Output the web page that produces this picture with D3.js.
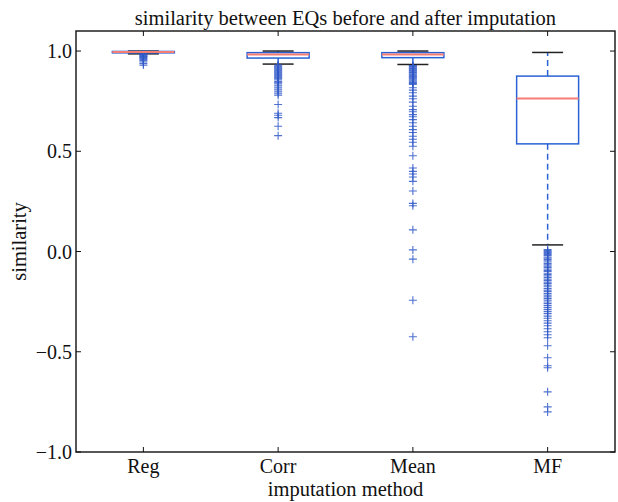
<!DOCTYPE html>
<html>
<head>
<meta charset="utf-8">
<script src="https://cdn.jsdelivr.net/npm/d3@7"></script>
<style>
  body { margin: 0; background: #fff; }
  text { font-family: "Liberation Serif", "DejaVu Serif", serif; fill: #111; }
</style>
</head>
<body>
<svg id="chart" width="618" height="502"></svg>
<script>
// categories and box stats
const methods = ["Reg", "Corr", "Mean", "MF"];
const whiskerHigh = [1.0, 1.0, 1.0, 0.993];
const q3 = [0.998, 0.992, 0.992, 0.875];
const medians = [0.995, 0.983, 0.983, 0.763];
const q1 = [0.991, 0.965, 0.967, 0.537];
const whiskerLow = [0.986, 0.935, 0.933, 0.033];

// outliers ('+' markers)
const regFliers = [0.985, 0.982, 0.979, 0.976, 0.973, 0.97, 0.967, 0.963, 0.958, 0.952, 0.945, 0.938, 0.93];
const corrFliers = [0.93, 0.925, 0.92, 0.915, 0.91, 0.905, 0.9, 0.895, 0.89, 0.885, 0.88, 0.875, 0.87, 0.865,
  0.86, 0.85, 0.845, 0.84, 0.83, 0.82, 0.81, 0.8, 0.79, 0.78, 0.733, 0.69, 0.68, 0.668, 0.625, 0.578];
const meanFliers = [0.928, 0.925, 0.921, 0.917, 0.913, 0.909, 0.905, 0.901, 0.897, 0.893, 0.889, 0.884, 0.88,
  0.875, 0.871, 0.866, 0.862, 0.857, 0.852, 0.847, 0.843, 0.838, 0.834, 0.817, 0.805, 0.792, 0.775, 0.762,
  0.745, 0.725, 0.708, 0.697, 0.683, 0.672, 0.658, 0.642, 0.625, 0.608, 0.594, 0.575, 0.56, 0.545, 0.525,
  0.478, 0.417, 0.4, 0.387, 0.372, 0.35, 0.302, 0.24, 0.228, 0.108, 0.008, -0.038, -0.243, -0.425];
const mfFliers = [0.01, 0.005, 0.0, -0.005, -0.01, -0.015, -0.02, -0.027, -0.033, -0.04, -0.046, -0.052, -0.06,
  -0.066, -0.073, -0.08, -0.087, -0.094, -0.1, -0.108, -0.115, -0.122, -0.13, -0.138, -0.145, -0.153, -0.16,
  -0.168, -0.176, -0.185, -0.193, -0.2, -0.21, -0.218, -0.226, -0.235, -0.243, -0.252, -0.26, -0.27, -0.28,
  -0.29, -0.3, -0.31, -0.322, -0.333, -0.345, -0.357, -0.37, -0.385, -0.4, -0.415, -0.43, -0.47, -0.53,
  -0.57, -0.58, -0.7, -0.775, -0.8];
const fliers = [regFliers, corrFliers, meanFliers, mfFliers];

const yTicks = [-1.0, -0.5, 0.0, 0.5, 1.0];

const plotLeft = 76, plotRight = 615, plotTop = 31, plotBottom = 452;
const svg = d3.select("#chart");

const x = d3.scaleLinear().domain([0.5, 4.5]).range([plotLeft, plotRight]);
const y = d3.scaleLinear().domain([-1.0, 1.1]).range([plotBottom, plotTop]);
const step = x(2) - x(1);
const boxHalf = step * 0.23;
const capHalf = step * 0.115;

const boxColor = "#2a62d4";
const medColor = "#f57c74";
const flierColor = "#2f58c8";

const g = svg.append("g");

methods.forEach((m, i) => {
  const cx = x(i + 1);
  // whiskers (dashed)
  g.append("line").attr("x1", cx).attr("x2", cx)
    .attr("y1", y(q3[i])).attr("y2", y(whiskerHigh[i]))
    .attr("stroke", boxColor).attr("stroke-width", 1.5).attr("stroke-dasharray", "6,4");
  g.append("line").attr("x1", cx).attr("x2", cx)
    .attr("y1", y(q1[i])).attr("y2", y(whiskerLow[i]))
    .attr("stroke", boxColor).attr("stroke-width", 1.5).attr("stroke-dasharray", "6,4");
  // caps
  [whiskerHigh[i], whiskerLow[i]].forEach(v => {
    g.append("line").attr("x1", cx - capHalf).attr("x2", cx + capHalf)
      .attr("y1", y(v)).attr("y2", y(v))
      .attr("stroke", "#222").attr("stroke-width", 1.5);
  });
  // fliers
  g.selectAll(null).data(fliers[i]).enter()
    .append("path")
    .attr("d", d => `M${cx - 4},${y(d)}H${cx + 4}M${cx},${y(d) - 4}V${y(d) + 4}`)
    .attr("stroke", flierColor).attr("stroke-width", 1.1).attr("fill", "none").attr("opacity", 0.85);
  // box
  g.append("rect")
    .attr("x", cx - boxHalf).attr("width", boxHalf * 2)
    .attr("y", y(q3[i])).attr("height", Math.max(0, y(q1[i]) - y(q3[i])))
    .attr("fill", "none").attr("stroke", boxColor).attr("stroke-width", 1.5);
  // median
  g.append("line").attr("x1", cx - boxHalf).attr("x2", cx + boxHalf)
    .attr("y1", y(medians[i])).attr("y2", y(medians[i]))
    .attr("stroke", medColor).attr("stroke-width", 2);
});

// frame
svg.append("rect").attr("x", plotLeft).attr("y", plotTop)
  .attr("width", plotRight - plotLeft).attr("height", plotBottom - plotTop)
  .attr("fill", "none").attr("stroke", "#111").attr("stroke-width", 1.4);

// ticks inside, on all four sides
const tick = 5;
yTicks.forEach(v => {
  svg.append("line").attr("x1", plotLeft).attr("x2", plotLeft + tick).attr("y1", y(v)).attr("y2", y(v)).attr("stroke", "#111");
  svg.append("line").attr("x1", plotRight).attr("x2", plotRight - tick).attr("y1", y(v)).attr("y2", y(v)).attr("stroke", "#111");
  svg.append("text").attr("x", plotLeft - 4).attr("y", y(v)).attr("dy", "0.35em")
    .attr("text-anchor", "end").attr("font-size", 20)
    .text(d3.format(".1f")(v).replace("-", "\u2212"));
});
methods.forEach((m, i) => {
  const cx = x(i + 1);
  svg.append("line").attr("x1", cx).attr("x2", cx).attr("y1", plotBottom).attr("y2", plotBottom - tick).attr("stroke", "#111");
  svg.append("line").attr("x1", cx).attr("x2", cx).attr("y1", plotTop).attr("y2", plotTop + tick).attr("stroke", "#111");
  svg.append("text").attr("x", cx).attr("y", plotBottom + 21)
    .attr("text-anchor", "middle").attr("font-size", 20).text(m);
});

svg.append("text").attr("x", (plotLeft + plotRight) / 2).attr("y", 25)
  .attr("text-anchor", "middle").attr("font-size", 20.5)
  .text("similarity between EQs before and after imputation");
svg.append("text").attr("x", (plotLeft + plotRight) / 2).attr("y", 496)
  .attr("text-anchor", "middle").attr("font-size", 20.5).text("imputation method");
svg.append("text").attr("transform", `translate(26,${(plotTop + plotBottom) / 2}) rotate(-90)`)
  .attr("text-anchor", "middle").attr("font-size", 20.5).text("similarity");
</script>
</body>
</html>
